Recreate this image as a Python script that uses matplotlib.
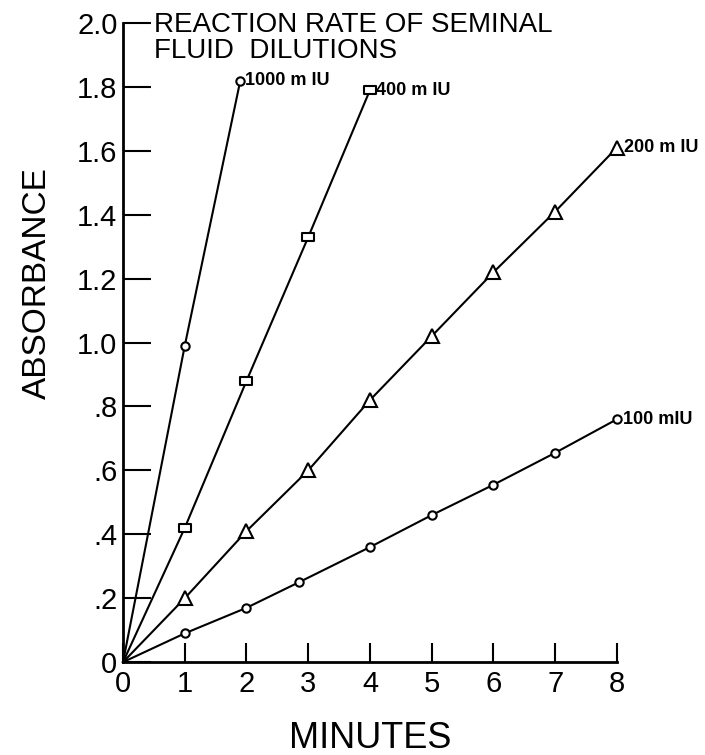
import matplotlib
matplotlib.use("Agg")
import matplotlib.pyplot as plt
from matplotlib.path import Path

plt.rcParams['font.family'] = ['Liberation Sans', 'DejaVu Sans']

# data (minutes, absorbance)
x1000 = [0, 1, 1.9]
y1000 = [0, 0.99, 1.82]
x400 = [0, 1, 2, 3, 4]
y400 = [0, 0.42, 0.88, 1.33, 1.79]
x200 = [0, 1, 2, 3, 4, 5, 6, 7, 8]
y200 = [0, 0.20, 0.41, 0.60, 0.82, 1.02, 1.22, 1.41, 1.61]
x100 = [0, 1, 2, 2.85, 4, 5, 6, 7, 8]
y100 = [0, 0.09, 0.17, 0.25, 0.36, 0.46, 0.555, 0.655, 0.76]

yticks = [0, 0.2, 0.4, 0.6, 0.8, 1.0, 1.2, 1.4, 1.6, 1.8, 2.0]
ylabels = ['0', '.2', '.4', '.6', '.8', '1.0', '1.2', '1.4', '1.6', '1.8', '2.0']
xticks = [0, 1, 2, 3, 4, 5, 6, 7, 8]

fig = plt.figure(figsize=(7.05, 7.55), dpi=100)
ax = fig.add_axes([0.1745, 0.123, 0.7005, 0.8465])

# flat rectangle marker like the hand-drawn squares
rect = Path([(-1, -0.65), (1, -0.65), (1, 0.65), (-1, 0.65), (-1, -0.65)],
            [Path.MOVETO, Path.LINETO, Path.LINETO, Path.LINETO, Path.CLOSEPOLY])

lw = 1.5
mk = dict(mfc='white', mec='black', mew=1.5, color='black', lw=lw, clip_on=False)
ax.plot(x1000, y1000, marker='o', ms=6, markevery=[1, 2], **mk)
ax.plot(x400, y400, marker=rect, ms=9, markevery=list(range(1, 5)), **mk)
ax.plot(x200, y200, marker='^', ms=10, markevery=list(range(1, 9)), **mk)
ax.plot(x100, y100, marker='o', ms=6, markevery=list(range(1, 9)), **mk)

lab = dict(fontsize=13, va='center', ha='left', fontweight='bold')
ax.text(x1000[-1] + 0.07, y1000[-1], '1000 m IU', **lab)
ax.text(x400[-1] + 0.1, y400[-1], '400 m IU', **lab)
ax.text(x200[-1] + 0.12, y200[-1], '200 m IU', **lab)
ax.text(x100[-1] + 0.1, y100[-1], '100 mIU', **lab)

ax.set_xlim(0, 8)
ax.set_ylim(0, 2.0)
ax.set_yticks(yticks)
ax.set_yticklabels(ylabels)
ax.set_xticks(xticks)
ax.tick_params(axis='y', direction='in', length=20, width=1.5, labelsize=21, pad=4)
ax.tick_params(axis='x', direction='in', length=14, width=1.5, labelsize=21, pad=6)

for s in ['top', 'right']:
    ax.spines[s].set_visible(False)
for s in ['left', 'bottom']:
    ax.spines[s].set_linewidth(2)

ax.set_xlabel('MINUTES', fontsize=26, labelpad=16)
ax.set_ylabel('ABSORBANCE', fontsize=24)
ax.yaxis.set_label_coords(-0.142, 0.593)

fig.text(0.219, 0.984, 'REACTION RATE OF SEMINAL\nFLUID  DILUTIONS',
         fontsize=20, ha='left', va='top', linespacing=1.0)

fig.savefig('out.png', dpi=100)
